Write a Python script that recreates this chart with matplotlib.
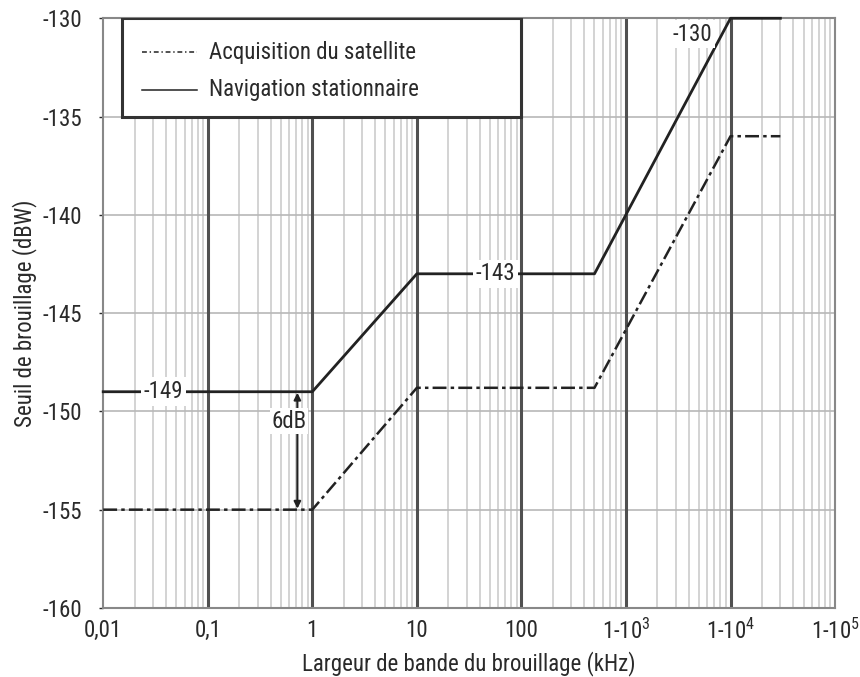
import numpy as np
import matplotlib.pyplot as plt
from matplotlib.patches import Rectangle

plt.rcParams['font.family'] = ['Roboto Condensed', 'Liberation Sans', 'DejaVu Sans']
plt.rcParams['mathtext.fontset'] = 'custom'
plt.rcParams['mathtext.rm'] = 'Roboto Condensed'
plt.rcParams['mathtext.it'] = 'Roboto Condensed'
plt.rcParams['axes.unicode_minus'] = False
plt.rcParams['lines.scale_dashes'] = False

# data
nav_x = [0.01, 1, 10, 500, 1e4, 3e4]
nav_y = [-149, -149, -143, -143, -130, -130]
acq_x = [0.01, 1, 10, 500, 1e4, 3e4]
acq_y = [-155, -155, -148.8, -148.8, -136, -136]

x_ticks = [0.01, 0.1, 1, 10, 100, 1e3, 1e4, 1e5]
x_labels = ['0,01', '0,1', '1', '10', '100', r'1-10$^3$', r'1-10$^4$', r'1-10$^5$']
y_ticks = [-160, -155, -150, -145, -140, -135, -130]

# level labels (x, y, text)
level_labels = [(0.0375, -149, '-149'), (56, -143, '-143'), (4300, -130.8, '-130')]
legend_labels = ['Acquisition du satellite', 'Navigation stationnaire']

line_col = '#222222'
text_col = '#2a2a2a'
fs = 16.5

fig = plt.figure(figsize=(8.6, 6.77), dpi=100)
ax = fig.add_axes([0.12, 0.102, 0.851, 0.871])
ax.set_xscale('log')
ax.set_xlim(0.01, 1e5)
ax.set_ylim(-160, -130)

# grid: minor log lines light, decades dark, 5 dB horizontal
for dec in range(-2, 5):
    for m in range(2, 10):
        ax.axvline(m * 10.0 ** dec, color='#d0d0d0', lw=1.3, zorder=0)
for xv in x_ticks[1:-1]:
    ax.axvline(xv, color='#505050', lw=2.2, zorder=1)
for yv in y_ticks[1:-1]:
    ax.axhline(yv, color='#b8b8b8', lw=1.2, zorder=0.5)

ax.plot(nav_x, nav_y, color=line_col, lw=2, zorder=3, clip_on=False)
ax.plot(acq_x, acq_y, color=line_col, lw=1.8, zorder=3,
        dashes=(10, 3, 2.5, 3), clip_on=False)

for xl, yl, txt in level_labels:
    ax.text(xl, yl, txt, ha='center', va='center', fontsize=fs, color=text_col, zorder=5,
            bbox=dict(facecolor='white', edgecolor='none', pad=2))

# 6 dB arrow
ax.annotate('', xy=(0.72, -149.05), xytext=(0.72, -154.95),
            arrowprops=dict(arrowstyle='<|-|>', color=line_col, lw=1.5,
                            mutation_scale=10, shrinkA=0, shrinkB=0), zorder=4)
ax.text(0.6, -150.5, '6dB', ha='center', va='center', fontsize=fs, color=text_col, zorder=5,
        bbox=dict(facecolor='white', edgecolor='none', pad=1))

# legend box, drawn by hand
box = Rectangle((0.0152, -135), 100 - 0.0152, 5, facecolor='white', edgecolor='#333333',
                lw=2.2, zorder=6)
ax.add_patch(box)
ax.plot([0.053, 0.128], [0.942, 0.942], transform=ax.transAxes, color=line_col,
        lw=1.1, dashes=(3.5, 2, 1, 2), zorder=7)
ax.plot([0.053, 0.128], [0.879, 0.879], transform=ax.transAxes, color=line_col,
        lw=1.1, zorder=7)
for yy, lab in zip([0.942, 0.879], legend_labels):
    ax.text(0.144, yy, lab, transform=ax.transAxes, ha='left', va='center',
            fontsize=fs, color=text_col, zorder=8)

ax.set_xticks(x_ticks)
ax.set_xticklabels(x_labels)
ax.xaxis.set_minor_locator(plt.NullLocator())
ax.set_yticks(y_ticks)
ax.tick_params(axis='x', labelsize=fs, colors=text_col, length=0, pad=8)
ax.tick_params(axis='y', labelsize=fs, colors=text_col, length=3, width=1, pad=12)
for sp in ax.spines.values():
    sp.set_color('#888888')
    sp.set_linewidth(1.5)

ax.set_xlabel('Largeur de bande du brouillage (kHz)', fontsize=fs, color=text_col, labelpad=5)
ax.set_ylabel('Seuil de brouillage (dBW)', fontsize=fs, color=text_col, labelpad=4)

fig.savefig('out.png', dpi=100)
